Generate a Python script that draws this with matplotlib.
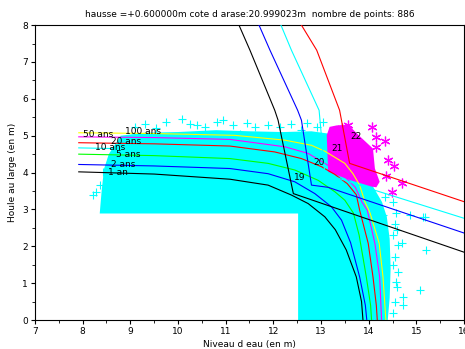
import numpy as np
import matplotlib
matplotlib.use("Agg")
import matplotlib.pyplot as plt
from matplotlib.ticker import MultipleLocator

# Title / labels
title = "hausse =+0.600000m cote d arase:20.999023m  nombre de points: 886"
xlabel = "Niveau d eau (en m)"
ylabel = "Houle au large (en m)"

# Dense cyan cloud (outline of the filled area of + marks)
cloud_x = [8.36, 12.52, 12.52, 14.40, 14.44, 14.46, 14.44, 14.38, 14.28, 14.10,
           13.90, 13.60, 13.20, 12.80, 12.20, 11.50, 10.80, 10.00, 9.30, 8.80,
           8.55, 8.45, 8.40]
cloud_y = [2.89, 2.89, 0.00, 0.00, 0.60, 1.40, 2.20, 2.80, 3.20, 3.60,
           4.10, 4.70, 5.05, 5.12, 5.10, 5.12, 5.15, 5.10, 5.08, 5.00,
           4.50, 4.10, 3.50]
# isolated cyan + marks around the cloud
plus_x = [8.29, 8.22, 8.36, 8.43, 9.31, 9.76, 10.08, 10.25, 10.56, 10.81, 10.95,
          11.30, 11.61, 11.89, 12.38, 12.59, 12.91, 13.04,
          9.10, 9.55, 10.40, 11.15, 11.45, 12.15, 12.70,
          14.51, 14.34, 14.58, 14.86, 15.14, 14.30, 15.18, 15.21, 14.62, 14.69,
          14.62, 14.58, 15.07, 14.72, 14.72,
          14.55, 14.50, 14.55, 14.50, 14.60, 14.55, 14.50, 14.60]
plus_y = [3.48, 3.39, 3.66, 4.02, 5.33, 5.37, 5.46, 5.33, 5.24, 5.37, 5.42,
          5.06, 5.24, 5.28, 5.33, 5.15, 5.24, 5.37,
          5.25, 5.20, 5.30, 5.30, 5.35, 5.25, 5.35,
          3.21, 3.34, 2.89, 2.85, 2.80, 2.85, 2.80, 1.90, 2.03, 2.08,
          1.31, 1.04, 0.81, 0.63, 0.41,
          2.60, 2.30, 1.70, 1.50, 0.90, 0.50, 0.20, 2.45]

# Dense magenta cloud (outline) and isolated * marks
mag_x = [13.12, 13.18, 13.33, 13.57, 13.80, 14.09, 14.13, 14.23, 14.16, 14.06, 13.60, 13.15]
mag_y = [5.01, 5.24, 5.28, 5.30, 5.00, 4.65, 4.11, 3.75, 3.60, 3.62, 3.80, 4.02]
star_x = [13.43, 13.57, 14.06, 14.16, 14.35, 14.16, 14.41, 14.53, 14.37, 14.69, 14.48]
star_y = [5.21, 5.28, 5.24, 4.97, 4.85, 4.70, 4.34, 4.18, 3.90, 3.73, 3.47]

# Return-period curves
rp_labels = ["1 an", "2 ans", "5 ans", "10 ans", "20 ans", "50 ans", "100 ans"]
rp_colors = ["#000000", "#0000ff", "#00ff00", "#00ffff", "#ff0000", "#ff00ff", "#ffff00"]
rp_x = [
    [7.92, 9.50, 11.09, 11.89, 12.38, 12.73, 13.08, 13.30, 13.53, 13.74, 13.85, 13.88],
    [7.92, 9.50, 11.09, 11.89, 12.45, 12.87, 13.22, 13.43, 13.62, 13.81, 13.93, 13.96],
    [7.92, 9.50, 11.09, 11.89, 12.45, 12.94, 13.29, 13.50, 13.68, 13.80, 13.95, 14.04, 14.06],
    [7.92, 9.50, 11.09, 12.00, 12.60, 13.10, 13.45, 13.70, 13.88, 14.03, 14.10, 14.12],
    [7.92, 9.50, 11.09, 12.03, 12.59, 13.01, 13.29, 13.55, 13.74, 13.81, 13.99, 14.09, 14.16, 14.18],
    [7.92, 9.50, 11.09, 12.24, 12.73, 13.08, 13.45, 13.72, 13.86, 13.97, 14.13, 14.23, 14.27],
    [7.92, 9.50, 11.19, 12.24, 12.80, 13.08, 13.50, 13.67, 13.81, 13.92, 14.03, 14.22, 14.30, 14.36],
]
rp_y = [
    [4.02, 3.96, 3.82, 3.66, 3.39, 3.16, 2.80, 2.45, 1.90, 1.17, 0.50, 0.00],
    [4.22, 4.18, 4.11, 3.97, 3.75, 3.43, 3.07, 2.71, 2.10, 1.17, 0.40, 0.00],
    [4.50, 4.46, 4.38, 4.25, 4.07, 3.79, 3.48, 3.25, 2.90, 2.30, 1.17, 0.40, 0.00],
    [4.67, 4.63, 4.55, 4.42, 4.25, 3.95, 3.60, 3.10, 2.30, 1.20, 0.40, 0.00],
    [4.81, 4.78, 4.72, 4.56, 4.38, 4.16, 3.95, 3.70, 3.40, 2.98, 2.08, 1.17, 0.40, 0.00],
    [4.97, 4.95, 4.90, 4.70, 4.52, 4.25, 3.95, 3.60, 3.20, 2.98, 2.08, 1.17, 0.00],
    [5.08, 5.06, 5.01, 4.88, 4.74, 4.58, 4.25, 3.97, 3.66, 3.21, 2.90, 2.08, 1.17, 0.00],
]
rp_lab_x = [8.75, 8.85, 8.96, 8.57, 8.92, 8.33, 9.27]
rp_lab_y = [4.00, 4.22, 4.49, 4.67, 4.85, 5.03, 5.12]

# Crest-level iso lines
iso_labels = ["19", "20", "21", "22"]
iso_colors = ["#000000", "#0000ff", "#00ffff", "#ff0000"]
iso_x = [
    [11.28, 11.51, 12.03, 12.10, 12.42, 16.00],
    [11.70, 11.93, 12.51, 12.59, 12.80, 13.15, 16.00],
    [12.16, 12.38, 12.96, 13.08, 14.13, 16.00],
    [12.59, 12.91, 13.39, 13.60, 14.13, 16.00],
]
iso_y = [
    [8.00, 7.32, 5.69, 5.42, 3.43, 1.84],
    [8.00, 7.32, 5.69, 5.42, 3.66, 3.60, 2.36],
    [8.00, 7.32, 5.69, 3.97, 3.52, 2.76],
    [8.00, 7.32, 5.69, 4.25, 4.02, 3.21],
]
iso_lab_x = [12.56, 12.95, 13.34, 13.74]
iso_lab_y = [3.87, 4.26, 4.65, 4.97]

plt.rcParams['font.size'] = 6.5
fig = plt.figure(figsize=(4.65, 3.49), dpi=100)
ax = fig.add_axes([0.075, 0.083, 0.923, 0.845])

ax.fill(cloud_x, cloud_y, color="#00ffff", lw=0, zorder=1)
ax.plot(plus_x, plus_y, ls="none", marker="+", ms=6, mew=0.8, color="#00ffff", zorder=1)
ax.fill(mag_x, mag_y, color="#ff00ff", lw=0, zorder=2)
ax.plot(star_x, star_y, ls="none", marker=(6, 2, 0), ms=7, mew=0.9, color="#ff00ff", zorder=2)

for xs, ys, c, lab, tx, ty in zip(rp_x, rp_y, rp_colors, rp_labels, rp_lab_x, rp_lab_y):
    ax.plot(xs, ys, color=c, lw=0.8, zorder=3)
    ax.text(tx, ty, lab, ha="center", va="center", color="black", fontsize=6.5, zorder=5)

for xs, ys, c, lab, tx, ty in zip(iso_x, iso_y, iso_colors, iso_labels, iso_lab_x, iso_lab_y):
    ax.plot(xs, ys, color=c, lw=0.8, zorder=4)
    ax.text(tx, ty, lab, ha="center", va="center", color="black", fontsize=6.5, zorder=5)

ax.set_xlim(7, 16)
ax.set_ylim(0, 8)
ax.xaxis.set_major_locator(MultipleLocator(1))
ax.xaxis.set_minor_locator(MultipleLocator(0.5))
ax.yaxis.set_major_locator(MultipleLocator(1))
ax.yaxis.set_minor_locator(MultipleLocator(0.5))
ax.tick_params(which="both", direction="out", top=False, right=False, labelsize=6.5, pad=2)
ax.tick_params(which="major", length=3)
ax.tick_params(which="minor", length=2)
ax.set_xlabel(xlabel, fontsize=6.5, labelpad=3)
ax.set_ylabel(ylabel, fontsize=6.5, labelpad=4)
ax.set_title(title, fontsize=6.5, pad=6)

fig.savefig("out.png", dpi=100)
